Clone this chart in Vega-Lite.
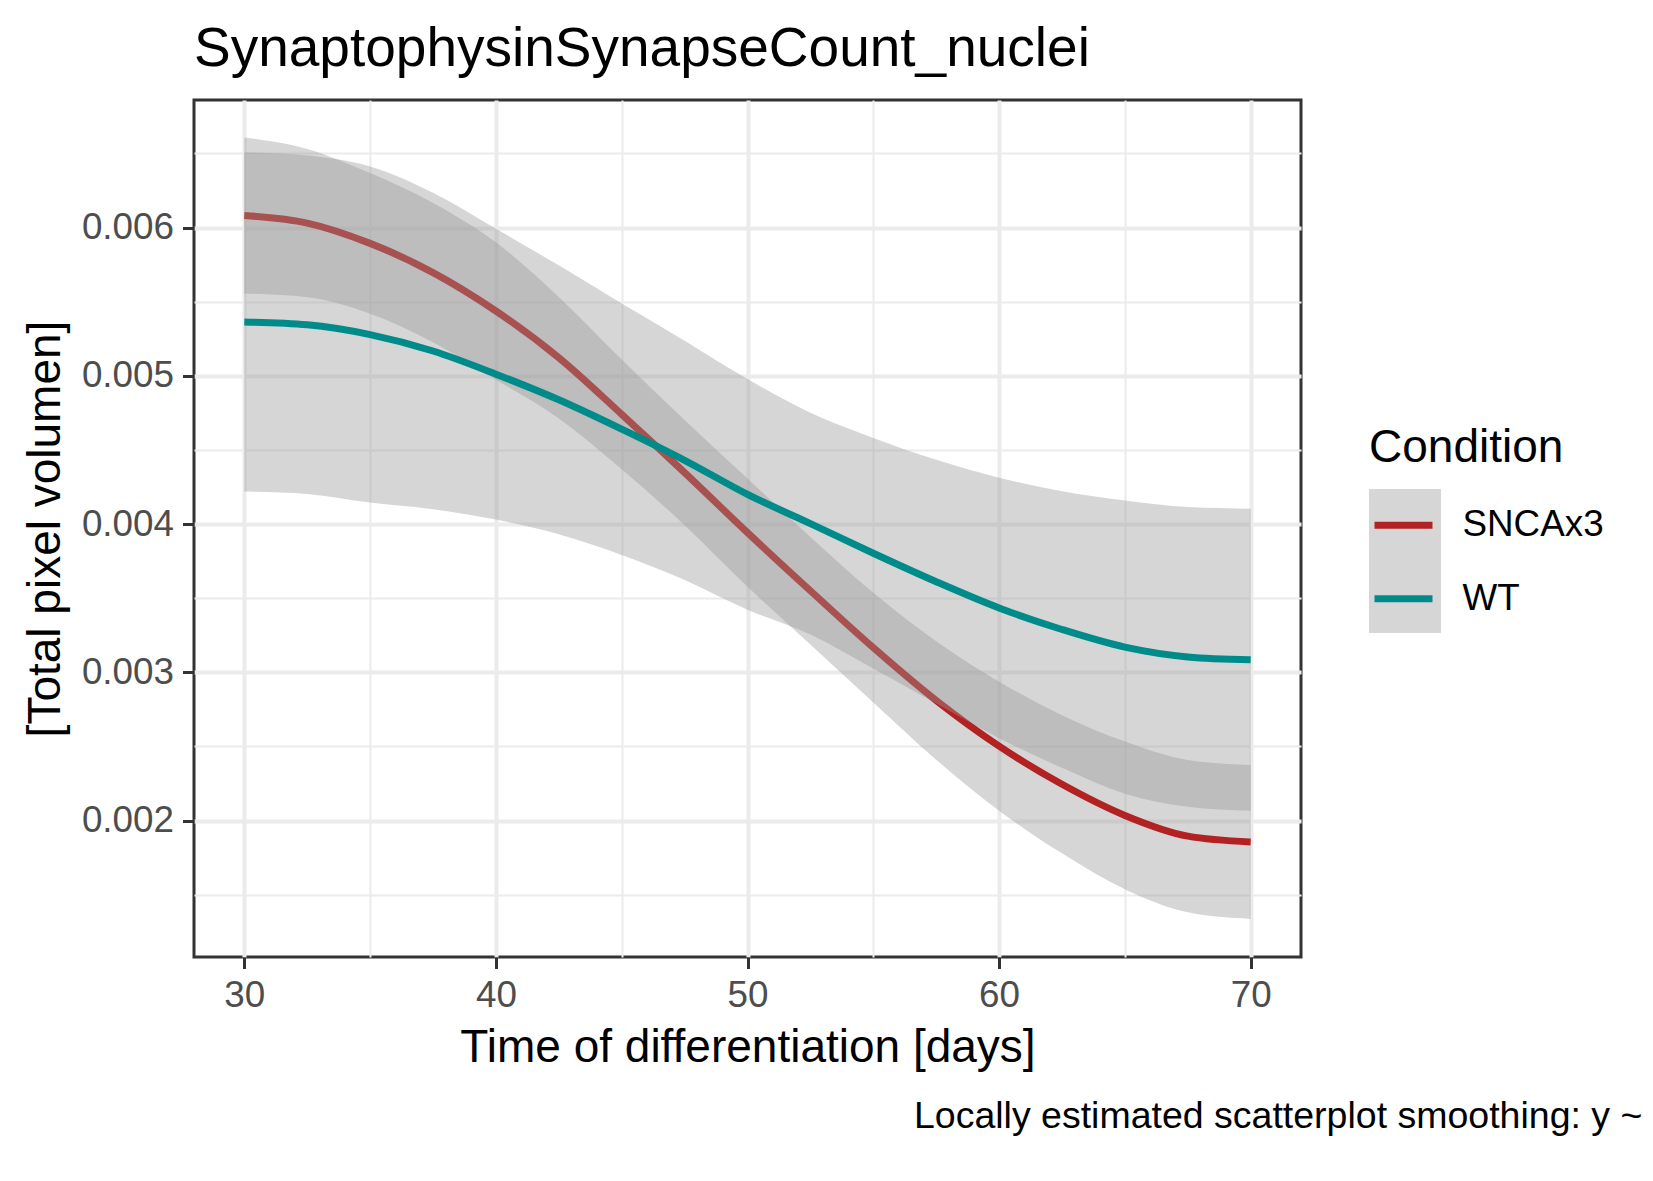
{
  "$schema": "https://vega.github.io/schema/vega-lite/v6.json",
  "padding": {"left": 20, "top": 20, "right": 0, "bottom": 0},
  "background": "white",
  "config": {
    "font": "Liberation Sans",
    "view": {"stroke": "#333333", "strokeWidth": 3},
    "axis": {
      "domain": false,
      "gridColor": "#EBEBEB",
      "tickColor": "#333333",
      "tickWidth": 3,
      "tickSize": 11.5,
      "labelPadding": 9,
      "labelFontSize": 36.8,
      "labelColor": "#4D4D4D",
      "labelFont": "Liberation Sans",
      "titleFontSize": 46,
      "titleFontWeight": "normal",
      "titleColor": "#000000",
      "titleFont": "Liberation Sans"
    },
    "legend": {
      "titleFontSize": 46,
      "titleFontWeight": "normal",
      "titleColor": "#000000",
      "titleFont": "Liberation Sans",
      "titleLimit": 600,
      "labelLimit": 600,
      "labelFontSize": 36.8,
      "labelColor": "#000000",
      "labelFont": "Liberation Sans"
    },
    "title": {"font": "Liberation Sans", "fontWeight": "normal", "color": "#000000"}
  },
  "title": {
    "text": "Locally estimated scatterplot smoothing: y ~ x",
    "orient": "bottom",
    "anchor": "start",
    "frame": "bounds",
    "fontSize": 37.5,
    "dx": 893,
    "offset": 26
  },
  "vconcat": [
    {
      "title": {
        "text": "SynaptophysinSynapseCount_nuclei",
        "anchor": "start",
        "frame": "group",
        "fontSize": 55,
        "offset": 22
      },
      "width": 1107,
      "height": 857,
      "data": {
        "values": [
          {"x": 30, "Condition": "SNCAx3", "y": 0.006081, "lo": 0.005555, "hi": 0.006607},
          {"x": 32.5, "Condition": "SNCAx3", "y": 0.00603, "lo": 0.00553, "hi": 0.00653},
          {"x": 35, "Condition": "SNCAx3", "y": 0.005893, "lo": 0.005419, "hi": 0.006367},
          {"x": 37.5, "Condition": "SNCAx3", "y": 0.005696, "lo": 0.005226, "hi": 0.006166},
          {"x": 40, "Condition": "SNCAx3", "y": 0.005437, "lo": 0.004974, "hi": 0.0059},
          {"x": 42.5, "Condition": "SNCAx3", "y": 0.005122, "lo": 0.004712, "hi": 0.005532},
          {"x": 45, "Condition": "SNCAx3", "y": 0.00474, "lo": 0.00437, "hi": 0.00511},
          {"x": 47.5, "Condition": "SNCAx3", "y": 0.004347, "lo": 0.003992, "hi": 0.004702},
          {"x": 50, "Condition": "SNCAx3", "y": 0.003942, "lo": 0.003577, "hi": 0.004307},
          {"x": 52.5, "Condition": "SNCAx3", "y": 0.00355, "lo": 0.003187, "hi": 0.003913},
          {"x": 55, "Condition": "SNCAx3", "y": 0.003166, "lo": 0.002796, "hi": 0.003536},
          {"x": 57.5, "Condition": "SNCAx3", "y": 0.00281, "lo": 0.00241, "hi": 0.00321},
          {"x": 60, "Condition": "SNCAx3", "y": 0.002502, "lo": 0.002067, "hi": 0.002937},
          {"x": 62.5, "Condition": "SNCAx3", "y": 0.002245, "lo": 0.001779, "hi": 0.002711},
          {"x": 65, "Condition": "SNCAx3", "y": 0.002035, "lo": 0.001537, "hi": 0.002533},
          {"x": 67.5, "Condition": "SNCAx3", "y": 0.001895, "lo": 0.001381, "hi": 0.002409},
          {"x": 70, "Condition": "SNCAx3", "y": 0.001856, "lo": 0.001337, "hi": 0.002375},
          {"x": 30, "Condition": "WT", "y": 0.005363, "lo": 0.004219, "hi": 0.006507},
          {"x": 32.5, "Condition": "WT", "y": 0.005344, "lo": 0.004203, "hi": 0.006485},
          {"x": 35, "Condition": "WT", "y": 0.005278, "lo": 0.004145, "hi": 0.006411},
          {"x": 37.5, "Condition": "WT", "y": 0.005167, "lo": 0.0041, "hi": 0.006234},
          {"x": 40, "Condition": "WT", "y": 0.005011, "lo": 0.00403, "hi": 0.005992},
          {"x": 42.5, "Condition": "WT", "y": 0.004838, "lo": 0.003931, "hi": 0.005745},
          {"x": 45, "Condition": "WT", "y": 0.00464, "lo": 0.003792, "hi": 0.005488},
          {"x": 47.5, "Condition": "WT", "y": 0.00443, "lo": 0.003623, "hi": 0.005237},
          {"x": 50, "Condition": "WT", "y": 0.0042, "lo": 0.003422, "hi": 0.004978},
          {"x": 52.5, "Condition": "WT", "y": 0.004003, "lo": 0.003255, "hi": 0.004751},
          {"x": 55, "Condition": "WT", "y": 0.003803, "lo": 0.003025, "hi": 0.004581},
          {"x": 57.5, "Condition": "WT", "y": 0.003611, "lo": 0.002789, "hi": 0.004433},
          {"x": 60, "Condition": "WT", "y": 0.003434, "lo": 0.002556, "hi": 0.004312},
          {"x": 62.5, "Condition": "WT", "y": 0.003289, "lo": 0.002356, "hi": 0.004222},
          {"x": 65, "Condition": "WT", "y": 0.00317, "lo": 0.002181, "hi": 0.004159},
          {"x": 67.5, "Condition": "WT", "y": 0.003104, "lo": 0.002093, "hi": 0.004115},
          {"x": 70, "Condition": "WT", "y": 0.003085, "lo": 0.002066, "hi": 0.004104}
        ]
      },
      "encoding": {
        "x": {
          "field": "x",
          "type": "quantitative",
          "title": "Time of differentiation [days]",
          "scale": {"domain": [28, 72], "nice": false, "zero": false},
          "axis": {
            "values": [30, 35, 40, 45, 50, 55, 60, 65, 70],
            "labelExpr": "datum.value % 10 === 0 ? datum.label : ''",
            "labelFlush": false,
            "labelOverlap": false,
            "titlePadding": 11,
            "gridWidth": {"condition": {"test": "datum.value % 10 === 0", "value": 4}, "value": 2},
            "tickOpacity": {"condition": {"test": "datum.value % 10 === 0", "value": 1}, "value": 0}
          }
        }
      },
      "layer": [
        {
          "transform": [{"filter": "datum.Condition === 'SNCAx3'"}],
          "mark": {"type": "area", "opacity": 0.4, "interpolate": "monotone"},
          "encoding": {
            "y": {
              "field": "lo",
              "type": "quantitative",
              "title": "[Total pixel volumen]",
              "scale": {"domain": [0.00108, 0.00686], "nice": false, "zero": false},
              "axis": {
                "values": [0.0015, 0.002, 0.0025, 0.003, 0.0035, 0.004, 0.0045, 0.005, 0.0055, 0.006, 0.0065],
                "labelExpr": "abs(datum.value*1000 - round(datum.value*1000)) < 0.001 ? format(datum.value, '.3f') : ''",
                "labelOverlap": false,
                "labelFlush": false,
                "titlePadding": 12,
                "gridWidth": {"condition": {"test": "abs(datum.value*1000 - round(datum.value*1000)) < 0.001", "value": 4}, "value": 2},
                "tickOpacity": {"condition": {"test": "abs(datum.value*1000 - round(datum.value*1000)) < 0.001", "value": 1}, "value": 0}
              }
            },
            "y2": {"field": "hi"},
            "fill": {
              "field": "Condition",
              "type": "nominal",
              "scale": {"range": ["#999999", "#999999"]},
              "legend": {
                "orient": "none",
                "legendX": 1175,
                "legendY": 389,
                "title": null,
                "symbolType": "square",
                "symbolSize": 5184,
                "symbolStrokeWidth": 0,
                "symbolOpacity": 0.4,
                "symbolOffset": 0,
                "rowPadding": 0,
                "labelExpr": "''",
                "labelOffset": 0,
                "padding": 0,
                "zindex": 0
              }
            }
          }
        },
        {
          "transform": [{"filter": "datum.Condition === 'SNCAx3'"}],
          "mark": {"type": "line", "strokeWidth": 7, "interpolate": "monotone"},
          "encoding": {
            "y": {"field": "y", "type": "quantitative", "title": "[Total pixel volumen]"},
            "stroke": {
              "field": "Condition",
              "type": "nominal",
              "scale": {"domain": ["SNCAx3", "WT"], "range": ["#B22222", "#008B8B"]},
              "legend": {
                "orient": "none",
                "legendX": 1175,
                "legendY": 326,
                "symbolType": "stroke",
                "symbolSize": 3364,
                "symbolStrokeWidth": 7,
                "symbolOffset": 2,
                "labelOffset": 26.5,
                "rowPadding": 21.4,
                "titlePadding": 20.8,
                "padding": 0,
                "zindex": 1
              }
            }
          }
        },
        {
          "transform": [{"filter": "datum.Condition === 'WT'"}],
          "mark": {"type": "area", "opacity": 0.4, "interpolate": "monotone"},
          "encoding": {
            "y": {"field": "lo", "type": "quantitative", "title": "[Total pixel volumen]"},
            "y2": {"field": "hi"},
            "fill": {"field": "Condition", "type": "nominal"}
          }
        },
        {
          "transform": [{"filter": "datum.Condition === 'WT'"}],
          "mark": {"type": "line", "strokeWidth": 7, "interpolate": "monotone"},
          "encoding": {
            "y": {"field": "y", "type": "quantitative", "title": "[Total pixel volumen]"},
            "stroke": {"field": "Condition", "type": "nominal"}
          }
        }
      ]
    }
  ]
}
